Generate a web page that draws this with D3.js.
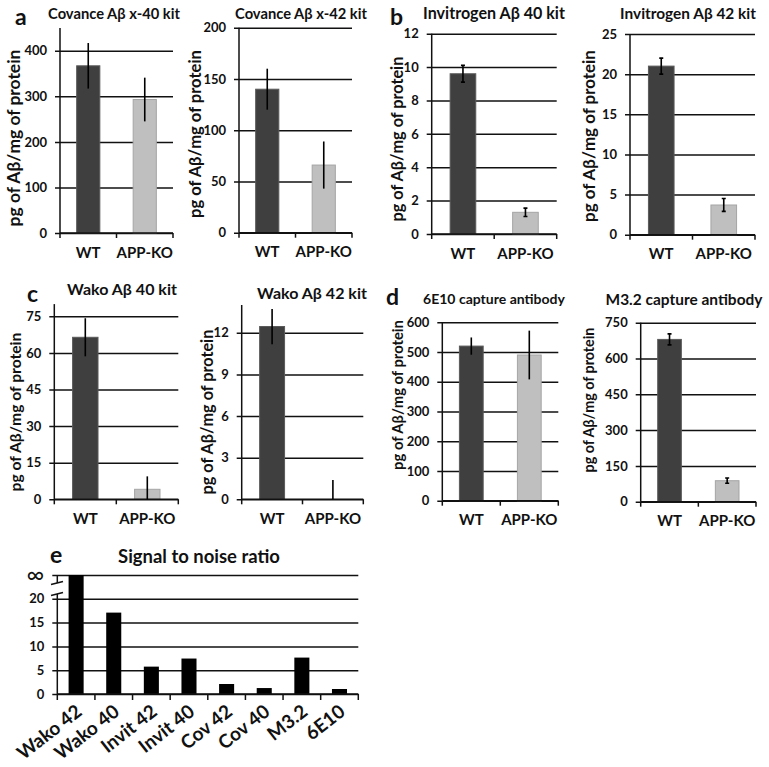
<!DOCTYPE html>
<meta charset="utf-8">
<script src="https://d3js.org/d3.v7.min.js"></script>
<style>
  body { margin: 0; background: #fff; }
  text { font-family: Lato, "Open Sans", sans-serif; font-weight: bold; fill: #111; }
</style>
<div id="my_dataviz"></div>
<script>
    // groups on every small chart
    const groups = ["WT", "APP-KO"];

    // a - Covance kits
    const covance40Mean = [367, 293];
    const covance40Err = [50, 48];
    const covance40Ticks = [0, 100, 200, 300, 400];
    const covance42Mean = [140, 66];
    const covance42Err = [20, 23];
    const covance42Ticks = [0, 50, 100, 150, 200];

    // b - Invitrogen kits
    const invit40Mean = [9.6, 1.3];
    const invit40Err = [0.5, 0.25];
    const invit40Ticks = [0, 2, 4, 6, 8, 10, 12];
    const invit42Mean = [21, 3.7];
    const invit42Err = [1.0, 0.8];
    const invit42Ticks = [0, 5, 10, 15, 20, 25];

    // c - Wako kits
    const wako40Mean = [66.4, 4.1];
    const wako40Err = [7.8, 5.3];
    const wako40Ticks = [0, 15, 30, 45, 60, 75];
    const wako42Mean = [12.45, 0];
    const wako42Err = [1.27, 1.39];
    const wako42Ticks = [0, 3, 6, 9, 12];

    // d - capture antibodies
    const e10Mean = [520, 490];
    const e10Err = [29, 82];
    const e10Ticks = [0, 100, 200, 300, 400, 500, 600];
    const m32Mean = [680, 88];
    const m32Err = [23, 11];
    const m32Ticks = [0, 150, 300, 450, 600, 750];

    // e - signal to noise
    const snrKits = ["Wako 42", "Wako 40", "Invit 42", "Invit 40", "Cov 42", "Cov 40", "M3.2", "6E10"];
    const snrValues = [Infinity, 17.1, 5.75, 7.45, 2.1, 1.25, 7.65, 1.05];
    const snrTicks = [0, 5, 10, 15, 20];

    const barColor = ["#3f3f3f", "#bfbfbf"];
    const barStroke = ["#5a5a5a", "#a5a5a5"];

    var svg = d3.select("#my_dataviz").append("svg")
        .attr("width", 769)
        .attr("height", 767);

    // scale the font so a text takes the wanted length
    function fit(sel, size, len) {
        sel.style("font-size", size + "px");
        var l = sel.node().getComputedTextLength();
        sel.style("font-size", (size * len / l) + "px");
        return sel;
    }

    // position of each small chart on the page
    var panels = [
        { mean: covance40Mean, err: covance40Err, ticks: covance40Ticks, max: 450,
          x0: 60, x1: 173, y0: 233, yTop: 28, cap: 0,
          title: "Covance Aβ x-40 kit", tx: 114, ty: 19, tw: 132, lx: 14, ly: 138, lw: 177,
          letter: "a", px: 15, py: 25 },
        { mean: covance42Mean, err: covance42Err, ticks: covance42Ticks, max: 200,
          x0: 239, x1: 352, y0: 232.7, yTop: 27.7, cap: 0,
          title: "Covance Aβ x-42 kit", tx: 301, ty: 19, tw: 132, lx: 195, ly: 134, lw: 168 },
        { mean: invit40Mean, err: invit40Err, ticks: invit40Ticks, max: 12,
          x0: 431.7, x1: 556.7, y0: 234, yTop: 33.7, cap: 2,
          title: "Invitrogen Aβ 40 kit", tx: 494, ty: 19, tw: 142, lx: 397.5, ly: 139, lw: 165,
          letter: "b", px: 390, py: 25 },
        { mean: invit42Mean, err: invit42Err, ticks: invit42Ticks, max: 25,
          x0: 630, x1: 755, y0: 234.7, yTop: 34, cap: 2,
          title: "Invitrogen Aβ 42 kit", tx: 688, ty: 19, tw: 136, lx: 589, ly: 136, lw: 172 },
        { mean: wako40Mean, err: wako40Err, ticks: wako40Ticks, max: 80,
          x0: 54.3, x1: 178.3, y0: 499.3, yTop: 304.1, cap: 0,
          title: "Wako Aβ 40 kit", tx: 122, ty: 295, tw: 110, lx: 16, ly: 412, lw: 159,
          letter: "c", px: 27, py: 302 },
        { mean: wako42Mean, err: wako42Err, ticks: wako42Ticks, max: 14,
          x0: 241.7, x1: 363.3, y0: 499.3, yTop: 305, cap: 0,
          title: "Wako Aβ 42 kit", tx: 312, ty: 299, tw: 110, lx: 207.5, ly: 412, lw: 165 },
        { mean: e10Mean, err: e10Err, ticks: e10Ticks, max: 600,
          x0: 442.3, x1: 558.3, y0: 500.7, yTop: 322.3, cap: 0,
          title: "6E10 capture antibody", tx: 494, ty: 304, tw: 142, lx: 397.5, ly: 395, lw: 150,
          letter: "d", px: 386, py: 305 },
        { mean: m32Mean, err: m32Err, ticks: m32Ticks, max: 750,
          x0: 640.7, x1: 756, y0: 501.7, yTop: 322.7, cap: 2,
          title: "M3.2 capture antibody", tx: 684, ty: 305, tw: 157, lx: 589, ly: 400, lw: 145 }
    ];

    panels.forEach(function (p) {
        var g = svg.append("g");

        var x = d3.scaleBand()
            .domain(groups)
            .range([p.x0, p.x1]);

        var y = d3.scaleLinear()
            .domain([0, p.max])
            .range([p.y0, p.yTop]);

        var w = p.x1 - p.x0;

        // y axis with gridlines across the plot
        var yAxis = g.append("g")
            .attr("transform", "translate(" + p.x0 + ",0)")
            .call(d3.axisLeft(y).tickValues(p.ticks).tickSizeInner(-w).tickSizeOuter(0).tickPadding(13));
        yAxis.select(".domain").remove();
        yAxis.selectAll(".tick line")
            .attr("x1", -5)
            .attr("stroke", "#111")
            .attr("stroke-width", 1.5);
        yAxis.selectAll(".tick text")
            .style("font-size", "13px")
            .style("font-family", "Lato, sans-serif")
            .style("font-weight", "bold")
            .attr("fill", "#111");

        // vertical axis line
        g.append("line")
            .attr("x1", p.x0).attr("x2", p.x0)
            .attr("y1", y(0)).attr("y2", y(p.max))
            .attr("stroke", "#111").attr("stroke-width", 1.5);

        // bars
        g.selectAll(".bar")
            .data(groups)
            .enter().append("rect")
            .attr("class", "bar")
            .attr("x", function (d) { return x(d) + x.bandwidth() * 0.295; })
            .attr("width", x.bandwidth() * 0.41)
            .attr("y", function (d, i) { return y(p.mean[i]); })
            .attr("height", function (d, i) { return y(0) - y(p.mean[i]); })
            .attr("fill", function (d, i) { return barColor[i]; })
            .attr("stroke", function (d, i) { return barStroke[i]; })
            .attr("stroke-width", 1);

        // x axis with ticks between groups
        var edges = [p.x0, p.x0 + x.step(), p.x1];
        g.append("line")
            .attr("x1", p.x0).attr("x2", p.x1)
            .attr("y1", y(0)).attr("y2", y(0))
            .attr("stroke", "#111").attr("stroke-width", 1.5);
        g.selectAll(".xtick")
            .data(edges)
            .enter().append("line")
            .attr("x1", function (d) { return d; }).attr("x2", function (d) { return d; })
            .attr("y1", y(0)).attr("y2", y(0) + 5)
            .attr("stroke", "#111").attr("stroke-width", 1.5);

        // error bars
        g.selectAll(".err")
            .data(groups)
            .enter().append("path")
            .attr("class", "err")
            .attr("d", function (d, i) {
                var cx = x(d) + x.bandwidth() / 2;
                var hi = y(p.mean[i] + p.err[i]);
                var lo = y(Math.max(0, p.mean[i] - p.err[i]));
                var path = "M" + cx + "," + hi + "V" + lo;
                if (p.cap) {
                    path += "M" + (cx - p.cap) + "," + hi + "H" + (cx + p.cap) +
                        "M" + (cx - p.cap) + "," + lo + "H" + (cx + p.cap);
                }
                return path;
            })
            .attr("fill", "none")
            .attr("stroke", "#000")
            .attr("stroke-width", 1.6);

        // group labels
        g.selectAll(".xlabel")
            .data(groups)
            .enter().append("text")
            .attr("x", function (d) { return x(d) + x.bandwidth() / 2; })
            .attr("y", p.y0 + 24.5)
            .attr("text-anchor", "middle")
            .style("font-size", "15px")
            .text(function (d) { return d; });

        // title
        fit(g.append("text")
            .attr("x", p.tx).attr("y", p.ty)
            .attr("text-anchor", "middle")
            .text(p.title), 14, p.tw);

        // y label
        var lab = fit(g.append("text")
            .attr("text-anchor", "middle")
            .text("pg of Aβ/mg of protein"), 15, p.lw);
        var ls = parseFloat(lab.style("font-size"));
        lab.attr("transform", "translate(" + (p.lx + ls * 0.35) + "," + p.ly + ")rotate(-90)");

        if (p.letter) {
            g.append("text")
                .attr("x", p.px).attr("y", p.py)
                .style("font-size", "23px")
                .text(p.letter);
        }
    });

    // ---- panel e : signal to noise ----
    var snrMax = 25;
    var ge = svg.append("g");

    var xe = d3.scaleBand()
        .domain(snrKits)
        .range([57.3, 358.3]);

    var ye = d3.scaleLinear()
        .domain([0, snrMax])
        .range([694, 575]);

    var eAxis = ge.append("g")
        .attr("transform", "translate(57.3,0)")
        .call(d3.axisLeft(ye)
            .tickValues(snrTicks.concat([snrMax]))
            .tickFormat(function (d) { return d === snrMax ? "∞" : d; })
            .tickSizeInner(-301).tickSizeOuter(0).tickPadding(13));
    eAxis.select(".domain").remove();
    eAxis.selectAll(".tick line")
        .attr("x1", -5)
        .attr("stroke", "#111")
        .attr("stroke-width", 1.5);
    eAxis.selectAll(".tick text")
        .style("font-size", function (d) { return d === snrMax ? "24px" : "13px"; })
        .style("font-family", "Lato, sans-serif")
        .style("font-weight", function (d) { return d === snrMax ? "normal" : "bold"; })
        .attr("fill", "#111");

    ge.append("line")
        .attr("x1", 57.3).attr("x2", 57.3)
        .attr("y1", ye(0)).attr("y2", ye(snrMax))
        .attr("stroke", "#111").attr("stroke-width", 1.5);

    // axis break between 20 and infinity
    var breakHi = ye(23.3), breakLo = ye(21.0);
    ge.append("rect")
        .attr("x", 54).attr("width", 7)
        .attr("y", breakHi).attr("height", breakLo - breakHi)
        .attr("fill", "#fff");
    ge.selectAll(".brk")
        .data([breakHi, breakLo])
        .enter().append("path")
        .attr("d", function (d) { return "M51," + (d + 1.5) + "L63," + (d - 1.5); })
        .attr("stroke", "#111").attr("stroke-width", 1.5).attr("fill", "none");

    ge.selectAll(".snrbar")
        .data(snrKits)
        .enter().append("rect")
        .attr("x", function (d) { return xe(d) + xe.bandwidth() * 0.3; })
        .attr("width", xe.bandwidth() * 0.4)
        .attr("y", function (d, i) { return ye(Math.min(snrValues[i], snrMax)); })
        .attr("height", function (d, i) { return ye(0) - ye(Math.min(snrValues[i], snrMax)); })
        .attr("fill", "#000");

    ge.append("line")
        .attr("x1", 57.3).attr("x2", 358.3)
        .attr("y1", ye(0)).attr("y2", ye(0))
        .attr("stroke", "#111").attr("stroke-width", 1.5);

    ge.selectAll(".etick")
        .data(d3.range(snrKits.length + 1))
        .enter().append("line")
        .attr("x1", function (i) { return 57.3 + i * xe.step(); })
        .attr("x2", function (i) { return 57.3 + i * xe.step(); })
        .attr("y1", ye(0)).attr("y2", ye(0) + 6)
        .attr("stroke", "#111").attr("stroke-width", 1.5);

    ge.selectAll(".elabel")
        .data(snrKits)
        .enter().append("text")
        .attr("transform", function (d) {
            return "translate(" + (xe(d) + xe.bandwidth() / 2 + 7) + "," + (ye(0) + 20) + ")rotate(-38)";
        })
        .attr("text-anchor", "end")
        .style("font-size", "19px")
        .text(function (d) { return d; });

    fit(ge.append("text")
        .attr("x", 199).attr("y", 563)
        .attr("text-anchor", "middle")
        .text("Signal to noise ratio"), 14.5, 162);

    ge.append("text")
        .attr("x", 50).attr("y", 563)
        .style("font-size", "23px")
        .text("e");
</script>
